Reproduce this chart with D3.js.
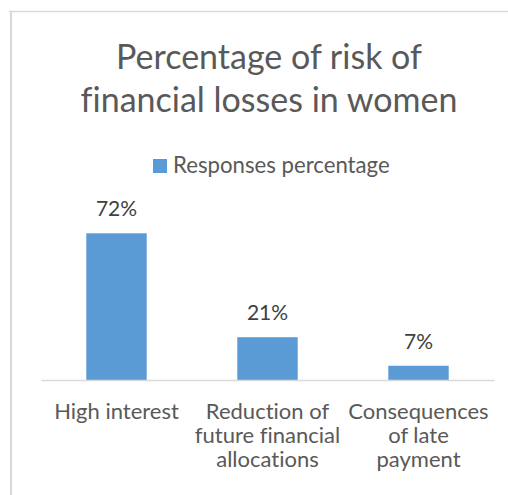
<!DOCTYPE html>
<html>
<head>
<meta charset="utf-8">
<script src="https://cdn.jsdelivr.net/npm/d3@7/dist/d3.min.js"></script>
<style>
  html, body { margin: 0; padding: 0; background: #fff; }
  svg { display: block; }
  text { font-family: Lato, "Open Sans", sans-serif; font-variant-ligatures: none; }
</style>
</head>
<body>
<svg id="chart" width="508" height="495"></svg>
<script>
// Chart data
const titleLines = ["Percentage of risk of", "financial losses in women"];
const seriesName = "Responses percentage";
const categories = ["High interest", "Reduction of future financial allocations", "Consequences of late payment"];
const categoryLines = [["High interest"], ["Reduction of", "future financial", "allocations"], ["Consequences", "of late", "payment"]];
const values = [0.72, 0.21, 0.07];

const W = 508, H = 495;
const svg = d3.select("#chart");
const barColor = "#5b9bd5";
const textColor = "#595959";
const gridColor = "#d9d9d9";

// Chart frame edges (top and left)
svg.append("line").attr("x1", 9).attr("x2", W).attr("y1", 11.5).attr("y2", 11.5)
  .attr("stroke", gridColor).attr("stroke-width", 1.5);
svg.append("line").attr("x1", 11).attr("x2", 11).attr("y1", 11).attr("y2", H)
  .attr("stroke", gridColor).attr("stroke-width", 2);

// Title
const title = svg.append("text").attr("text-anchor", "middle")
  .attr("fill", textColor).style("font-size", "34px");
titleLines.forEach((t, i) => {
  title.append("tspan").attr("x", 269).attr("y", 69 + i * 43).text(t);
});

// Legend
const legend = svg.append("g").attr("transform", "translate(153,159)");
legend.append("rect").attr("width", 14).attr("height", 14).attr("fill", barColor);
legend.append("text").attr("x", 20).attr("y", 14).attr("fill", textColor)
  .style("font-size", "22.2px").text(seriesName);

// Scales
const x = d3.scaleBand().domain(categories).range([41, 494]).paddingInner(0.6).paddingOuter(0.3);
const y = d3.scaleLinear().domain([0, 0.8]).range([380, 217]);

// Bars
svg.append("g").selectAll("rect").data(values).join("rect")
  .attr("x", (d, i) => x(categories[i]))
  .attr("width", x.bandwidth())
  .attr("y", d => y(d))
  .attr("height", d => y(0) - y(d))
  .attr("fill", barColor);

// Value labels
svg.append("g").selectAll("text").data(values).join("text")
  .attr("x", (d, i) => x(categories[i]) + x.bandwidth() / 2)
  .attr("y", d => y(d) - 17)
  .attr("text-anchor", "middle")
  .attr("fill", "#404040")
  .style("font-size", "21px")
  .text(d => d3.format(".0%")(d));

// Category axis
const axis = svg.append("g").attr("transform", `translate(0,${y(0)})`)
  .call(d3.axisBottom(x).tickSize(0).tickFormat(""));
axis.select(".domain").attr("stroke", gridColor).attr("stroke-width", 1.5);

const labels = svg.append("g");
categories.forEach((c, i) => {
  const t = labels.append("text").attr("text-anchor", "middle")
    .attr("fill", textColor).style("font-size", "22px");
  categoryLines[i].forEach((line, j) => {
    t.append("tspan").attr("x", x(c) + x.bandwidth() / 2).attr("y", 419 + j * 24).text(line);
  });
});
</script>
</body>
</html>
